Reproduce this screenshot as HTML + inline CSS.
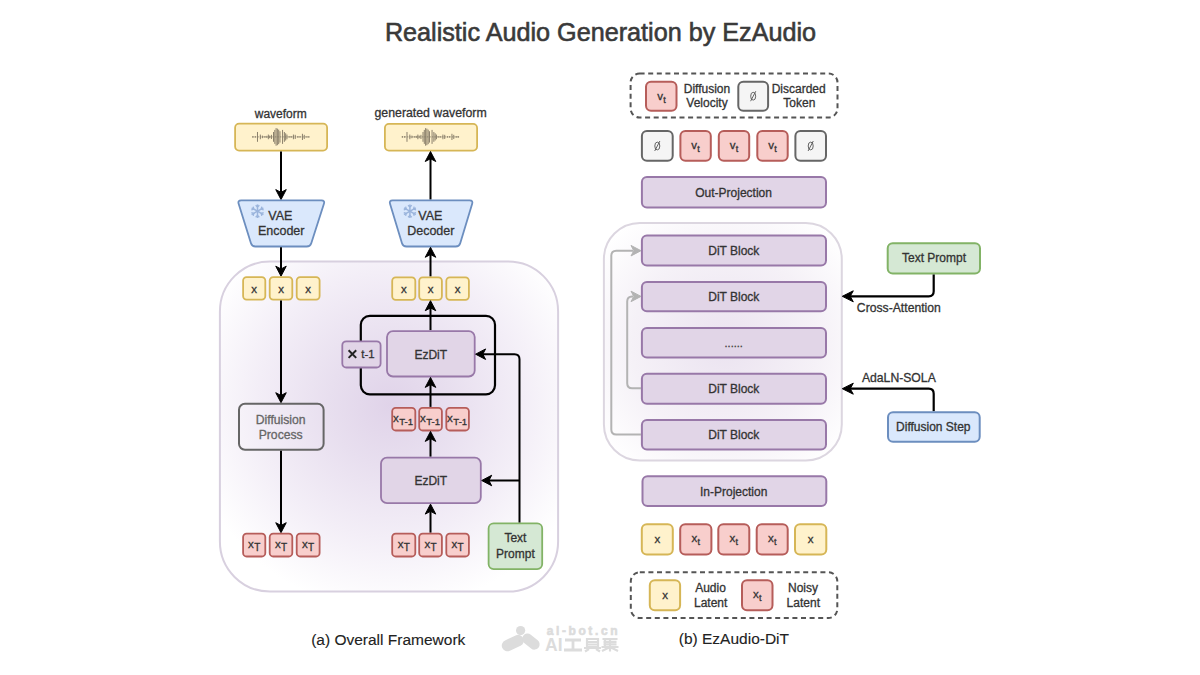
<!DOCTYPE html><html><head><meta charset="utf-8"><style>html,body{margin:0;padding:0;background:#fff;width:1200px;height:675px;overflow:hidden}svg{display:block}text{font-family:"Liberation Sans",sans-serif}</style></head><body>
<svg width="1200" height="675" viewBox="0 0 1200 675">
<defs>
<radialGradient id="g1" cx="390" cy="405" r="205" gradientUnits="userSpaceOnUse">
<stop offset="0" stop-color="#e0d3e9"/><stop offset="0.3" stop-color="#e8dfef"/><stop offset="0.65" stop-color="#f3eef7"/><stop offset="1" stop-color="#ffffff"/></radialGradient>
<radialGradient id="g2" cx="725" cy="345" r="155" gradientUnits="userSpaceOnUse">
<stop offset="0" stop-color="#ebe3f0"/><stop offset="0.6" stop-color="#f5f1f7"/><stop offset="1" stop-color="#ffffff"/></radialGradient>
</defs>
<text x="600.50" y="40.60" font-size="25.2" fill="#3a3a3a" stroke="#3a3a3a" stroke-width="0.6" text-anchor="middle" font-weight="normal" >Realistic Audio Generation by EzAudio</text>
<rect x="219.9" y="261.5" width="338.2" height="330.1" rx="50" fill="url(#g1)" stroke="#d8d0df" stroke-width="2"/>
<text x="280.75" y="117.50" font-size="12" fill="#333" stroke="#333" stroke-width="0.3" text-anchor="middle" font-weight="normal" >waveform</text>
<rect x="235.10" y="123.70" width="92.00" height="26.90" rx="4" fill="#fff2cc" stroke="#d6b656" stroke-width="1.8"/>
<line x1="252.33" y1="136.9" x2="309.95" y2="136.9" stroke="#9a917a" stroke-width="1" stroke-dasharray="1.5,1"/>
<line x1="252.84" y1="136.12" x2="252.84" y2="137.68" stroke="#857a66" stroke-width="0.95"/>
<line x1="255.17" y1="136.12" x2="255.17" y2="137.68" stroke="#857a66" stroke-width="0.95"/>
<line x1="257.49" y1="131.99" x2="257.49" y2="141.81" stroke="#857a66" stroke-width="0.95"/>
<line x1="260.34" y1="134.57" x2="260.34" y2="139.23" stroke="#857a66" stroke-width="0.95"/>
<line x1="262.40" y1="135.61" x2="262.40" y2="138.19" stroke="#857a66" stroke-width="0.95"/>
<line x1="264.73" y1="136.12" x2="264.73" y2="137.68" stroke="#857a66" stroke-width="0.95"/>
<line x1="266.80" y1="135.87" x2="266.80" y2="137.93" stroke="#857a66" stroke-width="0.95"/>
<line x1="268.35" y1="134.57" x2="268.35" y2="139.23" stroke="#857a66" stroke-width="0.95"/>
<line x1="269.64" y1="135.61" x2="269.64" y2="138.19" stroke="#857a66" stroke-width="0.95"/>
<line x1="271.45" y1="134.83" x2="271.45" y2="138.97" stroke="#857a66" stroke-width="0.95"/>
<line x1="273.51" y1="131.99" x2="273.51" y2="141.81" stroke="#857a66" stroke-width="0.95"/>
<line x1="274.81" y1="129.92" x2="274.81" y2="143.88" stroke="#857a66" stroke-width="0.95"/>
<line x1="276.10" y1="128.11" x2="276.10" y2="145.69" stroke="#857a66" stroke-width="0.95"/>
<line x1="277.39" y1="128.63" x2="277.39" y2="145.17" stroke="#857a66" stroke-width="0.95"/>
<line x1="278.68" y1="129.66" x2="278.68" y2="144.14" stroke="#857a66" stroke-width="0.95"/>
<line x1="279.97" y1="131.22" x2="279.97" y2="142.58" stroke="#857a66" stroke-width="0.95"/>
<line x1="282.56" y1="129.92" x2="282.56" y2="143.88" stroke="#857a66" stroke-width="0.95"/>
<line x1="284.37" y1="131.99" x2="284.37" y2="141.81" stroke="#857a66" stroke-width="0.95"/>
<line x1="285.66" y1="133.28" x2="285.66" y2="140.52" stroke="#857a66" stroke-width="0.95"/>
<line x1="286.95" y1="134.57" x2="286.95" y2="139.23" stroke="#857a66" stroke-width="0.95"/>
<line x1="289.28" y1="136.12" x2="289.28" y2="137.68" stroke="#857a66" stroke-width="0.95"/>
<line x1="291.34" y1="136.12" x2="291.34" y2="137.68" stroke="#857a66" stroke-width="0.95"/>
<line x1="293.41" y1="134.57" x2="293.41" y2="139.23" stroke="#857a66" stroke-width="0.95"/>
<line x1="295.22" y1="134.83" x2="295.22" y2="138.97" stroke="#857a66" stroke-width="0.95"/>
<line x1="297.80" y1="136.12" x2="297.80" y2="137.68" stroke="#857a66" stroke-width="0.95"/>
<line x1="299.87" y1="136.12" x2="299.87" y2="137.68" stroke="#857a66" stroke-width="0.95"/>
<line x1="302.45" y1="133.80" x2="302.45" y2="140.00" stroke="#857a66" stroke-width="0.95"/>
<line x1="304.26" y1="134.83" x2="304.26" y2="138.97" stroke="#857a66" stroke-width="0.95"/>
<line x1="306.85" y1="136.12" x2="306.85" y2="137.68" stroke="#857a66" stroke-width="0.95"/>
<line x1="308.91" y1="136.12" x2="308.91" y2="137.68" stroke="#857a66" stroke-width="0.95"/>
<line x1="281" y1="151.5" x2="281" y2="192.6" stroke="#000" stroke-width="2"/>
<polygon points="281.00,199.60 275.75,189.60 281.00,192.40 286.25,189.60" fill="#000" stroke="#000" stroke-width="1" stroke-linejoin="miter"/>
<path d="M238.64,203.74 Q237.60,200.40 241.10,200.40 L321.50,200.40 Q325.00,200.40 323.93,203.73 L311.27,243.17 Q310.20,246.50 306.70,246.50 L255.50,246.50 Q252.00,246.50 250.96,243.16 Z" fill="#dae8fc" stroke="#6c8ebf" stroke-width="1.8"/>
<line x1="257.50" y1="204.40" x2="257.50" y2="218.00" stroke="#9ab4dc" stroke-width="1.5"/>
<line x1="257.50" y1="215.42" x2="255.65" y2="217.22" stroke="#9ab4dc" stroke-width="1.25"/>
<line x1="257.50" y1="215.42" x2="259.35" y2="217.22" stroke="#9ab4dc" stroke-width="1.25"/>
<line x1="257.50" y1="206.98" x2="259.35" y2="205.18" stroke="#9ab4dc" stroke-width="1.25"/>
<line x1="257.50" y1="206.98" x2="255.65" y2="205.18" stroke="#9ab4dc" stroke-width="1.25"/>
<line x1="263.39" y1="207.80" x2="251.61" y2="214.60" stroke="#9ab4dc" stroke-width="1.5"/>
<line x1="253.85" y1="213.31" x2="251.36" y2="212.60" stroke="#9ab4dc" stroke-width="1.25"/>
<line x1="253.85" y1="213.31" x2="253.22" y2="215.81" stroke="#9ab4dc" stroke-width="1.25"/>
<line x1="261.15" y1="209.09" x2="263.64" y2="209.80" stroke="#9ab4dc" stroke-width="1.25"/>
<line x1="261.15" y1="209.09" x2="261.78" y2="206.59" stroke="#9ab4dc" stroke-width="1.25"/>
<line x1="263.39" y1="214.60" x2="251.61" y2="207.80" stroke="#9ab4dc" stroke-width="1.5"/>
<line x1="253.85" y1="209.09" x2="253.22" y2="206.59" stroke="#9ab4dc" stroke-width="1.25"/>
<line x1="253.85" y1="209.09" x2="251.36" y2="209.80" stroke="#9ab4dc" stroke-width="1.25"/>
<line x1="261.15" y1="213.31" x2="261.78" y2="215.81" stroke="#9ab4dc" stroke-width="1.25"/>
<line x1="261.15" y1="213.31" x2="263.64" y2="212.60" stroke="#9ab4dc" stroke-width="1.25"/>
<text x="280.30" y="220.20" font-size="12.5" fill="#333333" stroke="#333333" stroke-width="0.3" text-anchor="middle" font-weight="normal" >VAE</text>
<text x="281.20" y="235.40" font-size="12.5" fill="#333333" stroke="#333333" stroke-width="0.3" text-anchor="middle" font-weight="normal" >Encoder</text>
<line x1="281" y1="247.3" x2="281" y2="269.2" stroke="#000" stroke-width="2"/>
<polygon points="281.00,276.20 275.75,266.20 281.00,269.00 286.25,266.20" fill="#000" stroke="#000" stroke-width="1" stroke-linejoin="miter"/>
<rect x="243.10" y="277.10" width="22.20" height="22.50" rx="3.5" fill="#fff2cc" stroke="#d6b656" stroke-width="1.8"/>
<text x="254.20" y="293.00" font-size="11.5" fill="#333333" stroke="#333333" stroke-width="0.3" text-anchor="middle" font-weight="normal" >x</text>
<rect x="269.70" y="277.10" width="22.60" height="22.50" rx="3.5" fill="#fff2cc" stroke="#d6b656" stroke-width="1.8"/>
<text x="281.00" y="293.00" font-size="11.5" fill="#333333" stroke="#333333" stroke-width="0.3" text-anchor="middle" font-weight="normal" >x</text>
<rect x="296.70" y="277.10" width="22.90" height="22.50" rx="3.5" fill="#fff2cc" stroke="#d6b656" stroke-width="1.8"/>
<text x="308.15" y="293.00" font-size="11.5" fill="#333333" stroke="#333333" stroke-width="0.3" text-anchor="middle" font-weight="normal" >x</text>
<line x1="281" y1="300.5" x2="281" y2="395.7" stroke="#000" stroke-width="2"/>
<polygon points="281.00,402.70 275.75,392.70 281.00,395.50 286.25,392.70" fill="#000" stroke="#000" stroke-width="1" stroke-linejoin="miter"/>
<rect x="239.00" y="403.70" width="84.60" height="46.00" rx="6" fill="none" stroke="#666666" stroke-width="2"/>
<text x="280.70" y="423.90" font-size="12.2" fill="#666" stroke="#666" stroke-width="0.3" text-anchor="middle" font-weight="normal" >Diffuision</text>
<text x="280.70" y="438.80" font-size="12.2" fill="#666" stroke="#666" stroke-width="0.3" text-anchor="middle" font-weight="normal" >Process</text>
<line x1="281" y1="450.7" x2="281" y2="525.7" stroke="#000" stroke-width="2"/>
<polygon points="281.00,532.70 275.75,522.70 281.00,525.50 286.25,522.70" fill="#000" stroke="#000" stroke-width="1" stroke-linejoin="miter"/>
<rect x="243.10" y="533.60" width="22.20" height="22.90" rx="3.5" fill="#f8cecc" stroke="#b65d5a" stroke-width="1.8"/>
<text x="254.20" y="547.70" font-size="11.5" fill="#333" stroke="#333" stroke-width="0.3" text-anchor="middle"><tspan>x</tspan><tspan font-size="10" dy="3" dx="0.3">T</tspan></text>
<rect x="269.70" y="533.60" width="22.60" height="22.90" rx="3.5" fill="#f8cecc" stroke="#b65d5a" stroke-width="1.8"/>
<text x="281.00" y="547.70" font-size="11.5" fill="#333" stroke="#333" stroke-width="0.3" text-anchor="middle"><tspan>x</tspan><tspan font-size="10" dy="3" dx="0.3">T</tspan></text>
<rect x="296.70" y="533.60" width="22.90" height="22.90" rx="3.5" fill="#f8cecc" stroke="#b65d5a" stroke-width="1.8"/>
<text x="308.15" y="547.70" font-size="11.5" fill="#333" stroke="#333" stroke-width="0.3" text-anchor="middle"><tspan>x</tspan><tspan font-size="10" dy="3" dx="0.3">T</tspan></text>
<text x="430.60" y="117.20" font-size="12.3" fill="#333333" stroke="#333333" stroke-width="0.3" text-anchor="middle" font-weight="normal" >generated waveform</text>
<rect x="384.90" y="123.90" width="92.20" height="26.70" rx="4" fill="#fff2cc" stroke="#d6b656" stroke-width="1.8"/>
<line x1="401.83" y1="136.9" x2="459.45" y2="136.9" stroke="#9a917a" stroke-width="1" stroke-dasharray="1.5,1"/>
<line x1="402.34" y1="136.12" x2="402.34" y2="137.68" stroke="#857a66" stroke-width="0.95"/>
<line x1="404.67" y1="136.12" x2="404.67" y2="137.68" stroke="#857a66" stroke-width="0.95"/>
<line x1="406.99" y1="131.99" x2="406.99" y2="141.81" stroke="#857a66" stroke-width="0.95"/>
<line x1="409.84" y1="134.57" x2="409.84" y2="139.23" stroke="#857a66" stroke-width="0.95"/>
<line x1="411.90" y1="135.61" x2="411.90" y2="138.19" stroke="#857a66" stroke-width="0.95"/>
<line x1="414.23" y1="136.12" x2="414.23" y2="137.68" stroke="#857a66" stroke-width="0.95"/>
<line x1="416.30" y1="135.87" x2="416.30" y2="137.93" stroke="#857a66" stroke-width="0.95"/>
<line x1="417.85" y1="134.57" x2="417.85" y2="139.23" stroke="#857a66" stroke-width="0.95"/>
<line x1="419.14" y1="135.61" x2="419.14" y2="138.19" stroke="#857a66" stroke-width="0.95"/>
<line x1="420.95" y1="134.83" x2="420.95" y2="138.97" stroke="#857a66" stroke-width="0.95"/>
<line x1="423.01" y1="131.99" x2="423.01" y2="141.81" stroke="#857a66" stroke-width="0.95"/>
<line x1="424.31" y1="129.92" x2="424.31" y2="143.88" stroke="#857a66" stroke-width="0.95"/>
<line x1="425.60" y1="128.11" x2="425.60" y2="145.69" stroke="#857a66" stroke-width="0.95"/>
<line x1="426.89" y1="128.63" x2="426.89" y2="145.17" stroke="#857a66" stroke-width="0.95"/>
<line x1="428.18" y1="129.66" x2="428.18" y2="144.14" stroke="#857a66" stroke-width="0.95"/>
<line x1="429.47" y1="131.22" x2="429.47" y2="142.58" stroke="#857a66" stroke-width="0.95"/>
<line x1="432.06" y1="129.92" x2="432.06" y2="143.88" stroke="#857a66" stroke-width="0.95"/>
<line x1="433.87" y1="131.99" x2="433.87" y2="141.81" stroke="#857a66" stroke-width="0.95"/>
<line x1="435.16" y1="133.28" x2="435.16" y2="140.52" stroke="#857a66" stroke-width="0.95"/>
<line x1="436.45" y1="134.57" x2="436.45" y2="139.23" stroke="#857a66" stroke-width="0.95"/>
<line x1="438.78" y1="136.12" x2="438.78" y2="137.68" stroke="#857a66" stroke-width="0.95"/>
<line x1="440.84" y1="136.12" x2="440.84" y2="137.68" stroke="#857a66" stroke-width="0.95"/>
<line x1="442.91" y1="134.57" x2="442.91" y2="139.23" stroke="#857a66" stroke-width="0.95"/>
<line x1="444.72" y1="134.83" x2="444.72" y2="138.97" stroke="#857a66" stroke-width="0.95"/>
<line x1="447.30" y1="136.12" x2="447.30" y2="137.68" stroke="#857a66" stroke-width="0.95"/>
<line x1="449.37" y1="136.12" x2="449.37" y2="137.68" stroke="#857a66" stroke-width="0.95"/>
<line x1="451.95" y1="133.80" x2="451.95" y2="140.00" stroke="#857a66" stroke-width="0.95"/>
<line x1="453.76" y1="134.83" x2="453.76" y2="138.97" stroke="#857a66" stroke-width="0.95"/>
<line x1="456.35" y1="136.12" x2="456.35" y2="137.68" stroke="#857a66" stroke-width="0.95"/>
<line x1="458.41" y1="136.12" x2="458.41" y2="137.68" stroke="#857a66" stroke-width="0.95"/>
<line x1="430.5" y1="199.6" x2="430.5" y2="158.5" stroke="#000" stroke-width="2"/>
<polygon points="430.50,151.50 425.25,161.50 430.50,158.70 435.75,161.50" fill="#000" stroke="#000" stroke-width="1" stroke-linejoin="miter"/>
<path d="M390.02,203.75 Q389.00,200.40 392.50,200.40 L469.70,200.40 Q473.20,200.40 472.18,203.75 L460.22,243.15 Q459.20,246.50 455.70,246.50 L406.50,246.50 Q403.00,246.50 401.98,243.15 Z" fill="#dae8fc" stroke="#6c8ebf" stroke-width="1.8"/>
<line x1="409.90" y1="204.40" x2="409.90" y2="218.00" stroke="#9ab4dc" stroke-width="1.5"/>
<line x1="409.90" y1="215.42" x2="408.05" y2="217.22" stroke="#9ab4dc" stroke-width="1.25"/>
<line x1="409.90" y1="215.42" x2="411.75" y2="217.22" stroke="#9ab4dc" stroke-width="1.25"/>
<line x1="409.90" y1="206.98" x2="411.75" y2="205.18" stroke="#9ab4dc" stroke-width="1.25"/>
<line x1="409.90" y1="206.98" x2="408.05" y2="205.18" stroke="#9ab4dc" stroke-width="1.25"/>
<line x1="415.79" y1="207.80" x2="404.01" y2="214.60" stroke="#9ab4dc" stroke-width="1.5"/>
<line x1="406.25" y1="213.31" x2="403.76" y2="212.60" stroke="#9ab4dc" stroke-width="1.25"/>
<line x1="406.25" y1="213.31" x2="405.62" y2="215.81" stroke="#9ab4dc" stroke-width="1.25"/>
<line x1="413.55" y1="209.09" x2="416.04" y2="209.80" stroke="#9ab4dc" stroke-width="1.25"/>
<line x1="413.55" y1="209.09" x2="414.18" y2="206.59" stroke="#9ab4dc" stroke-width="1.25"/>
<line x1="415.79" y1="214.60" x2="404.01" y2="207.80" stroke="#9ab4dc" stroke-width="1.5"/>
<line x1="406.25" y1="209.09" x2="405.62" y2="206.59" stroke="#9ab4dc" stroke-width="1.25"/>
<line x1="406.25" y1="209.09" x2="403.76" y2="209.80" stroke="#9ab4dc" stroke-width="1.25"/>
<line x1="413.55" y1="213.31" x2="414.18" y2="215.81" stroke="#9ab4dc" stroke-width="1.25"/>
<line x1="413.55" y1="213.31" x2="416.04" y2="212.60" stroke="#9ab4dc" stroke-width="1.25"/>
<text x="430.30" y="220.20" font-size="12.5" fill="#333333" stroke="#333333" stroke-width="0.3" text-anchor="middle" font-weight="normal" >VAE</text>
<text x="430.80" y="235.40" font-size="12.5" fill="#333333" stroke="#333333" stroke-width="0.3" text-anchor="middle" font-weight="normal" >Decoder</text>
<line x1="430.5" y1="276.5" x2="430.5" y2="254.3" stroke="#000" stroke-width="2"/>
<polygon points="430.50,247.30 425.25,257.30 430.50,254.50 435.75,257.30" fill="#000" stroke="#000" stroke-width="1" stroke-linejoin="miter"/>
<rect x="392.20" y="277.40" width="23.10" height="22.40" rx="3.5" fill="#fff2cc" stroke="#d6b656" stroke-width="1.8"/>
<text x="403.75" y="293.20" font-size="11.5" fill="#333333" stroke="#333333" stroke-width="0.3" text-anchor="middle" font-weight="normal" >x</text>
<rect x="419.20" y="277.40" width="22.70" height="22.40" rx="3.5" fill="#fff2cc" stroke="#d6b656" stroke-width="1.8"/>
<text x="430.55" y="293.20" font-size="11.5" fill="#333333" stroke="#333333" stroke-width="0.3" text-anchor="middle" font-weight="normal" >x</text>
<rect x="446.30" y="277.40" width="22.60" height="22.40" rx="3.5" fill="#fff2cc" stroke="#d6b656" stroke-width="1.8"/>
<text x="457.60" y="293.20" font-size="11.5" fill="#333333" stroke="#333333" stroke-width="0.3" text-anchor="middle" font-weight="normal" >x</text>
<rect x="360.8" y="315.8" width="134.2" height="78.5" rx="9" fill="none" stroke="#000" stroke-width="2.2"/>
<line x1="430.5" y1="330.2" x2="430.5" y2="307.7" stroke="#000" stroke-width="2"/>
<polygon points="430.50,300.70 425.25,310.70 430.50,307.90 435.75,310.70" fill="#000" stroke="#000" stroke-width="1" stroke-linejoin="miter"/>
<rect x="342.30" y="341.30" width="38.30" height="26.20" rx="4" fill="#e1d5e7" stroke="#9878a8" stroke-width="1.8"/>
<path d="M348.6,350.3 L356.2,357.9 M356.2,350.3 L348.6,357.9" stroke="#222" stroke-width="2"/>
<text x="361.30" y="358.30" font-size="11.4" fill="#333333" stroke="#333333" stroke-width="0.3" text-anchor="start" font-weight="normal" >t-1</text>
<rect x="387.00" y="331.10" width="87.70" height="45.40" rx="6" fill="#e1d5e7" stroke="#9878a8" stroke-width="1.8"/>
<text x="430.80" y="358.70" font-size="12" fill="#333333" stroke="#333333" stroke-width="0.3" text-anchor="middle" font-weight="normal" >EzDiT</text>
<line x1="430.5" y1="406.9" x2="430.5" y2="384.4" stroke="#000" stroke-width="2"/>
<polygon points="430.50,377.40 425.25,387.40 430.50,384.60 435.75,387.40" fill="#000" stroke="#000" stroke-width="1" stroke-linejoin="miter"/>
<rect x="392.20" y="407.80" width="23.10" height="22.70" rx="3.5" fill="#f8cecc" stroke="#b65d5a" stroke-width="1.8"/>
<text x="392.90" y="422.2" font-size="11.5" fill="#333" stroke="#333" stroke-width="0.3"><tspan>x</tspan><tspan font-size="9.6" dy="3" dx="0.6">T-1</tspan></text>
<rect x="419.20" y="407.80" width="22.70" height="22.70" rx="3.5" fill="#f8cecc" stroke="#b65d5a" stroke-width="1.8"/>
<text x="419.90" y="422.2" font-size="11.5" fill="#333" stroke="#333" stroke-width="0.3"><tspan>x</tspan><tspan font-size="9.6" dy="3" dx="0.6">T-1</tspan></text>
<rect x="446.30" y="407.80" width="22.60" height="22.70" rx="3.5" fill="#f8cecc" stroke="#b65d5a" stroke-width="1.8"/>
<text x="447.00" y="422.2" font-size="11.5" fill="#333" stroke="#333" stroke-width="0.3"><tspan>x</tspan><tspan font-size="9.6" dy="3" dx="0.6">T-1</tspan></text>
<line x1="430.5" y1="456.7" x2="430.5" y2="438.4" stroke="#000" stroke-width="2"/>
<polygon points="430.50,431.40 425.25,441.40 430.50,438.60 435.75,441.40" fill="#000" stroke="#000" stroke-width="1" stroke-linejoin="miter"/>
<rect x="381.00" y="457.60" width="99.80" height="45.60" rx="6" fill="#e1d5e7" stroke="#9878a8" stroke-width="1.8"/>
<text x="430.80" y="485.20" font-size="12" fill="#333333" stroke="#333333" stroke-width="0.3" text-anchor="middle" font-weight="normal" >EzDiT</text>
<line x1="430.5" y1="532.7" x2="430.5" y2="511.1" stroke="#000" stroke-width="2"/>
<polygon points="430.50,504.10 425.25,514.10 430.50,511.30 435.75,514.10" fill="#000" stroke="#000" stroke-width="1" stroke-linejoin="miter"/>
<rect x="392.20" y="533.60" width="23.10" height="22.90" rx="3.5" fill="#f8cecc" stroke="#b65d5a" stroke-width="1.8"/>
<text x="403.75" y="547.70" font-size="11.5" fill="#333" stroke="#333" stroke-width="0.3" text-anchor="middle"><tspan>x</tspan><tspan font-size="10" dy="3" dx="0.3">T</tspan></text>
<rect x="419.20" y="533.60" width="22.70" height="22.90" rx="3.5" fill="#f8cecc" stroke="#b65d5a" stroke-width="1.8"/>
<text x="430.55" y="547.70" font-size="11.5" fill="#333" stroke="#333" stroke-width="0.3" text-anchor="middle"><tspan>x</tspan><tspan font-size="10" dy="3" dx="0.3">T</tspan></text>
<rect x="446.30" y="533.60" width="22.60" height="22.90" rx="3.5" fill="#f8cecc" stroke="#b65d5a" stroke-width="1.8"/>
<text x="457.60" y="547.70" font-size="11.5" fill="#333" stroke="#333" stroke-width="0.3" text-anchor="middle"><tspan>x</tspan><tspan font-size="10" dy="3" dx="0.3">T</tspan></text>
<rect x="488.60" y="523.40" width="53.60" height="45.70" rx="5" fill="#d5e8d4" stroke="#82b366" stroke-width="1.8"/>
<text x="515.40" y="542.30" font-size="12" fill="#333333" stroke="#333333" stroke-width="0.3" text-anchor="middle" font-weight="normal" >Text</text>
<text x="515.40" y="557.50" font-size="12" fill="#333333" stroke="#333333" stroke-width="0.3" text-anchor="middle" font-weight="normal" >Prompt</text>
<path d="M519.5,522.5 L519.5,359.2 Q519.5,354.2 514.5,354.2 L482.6,354.2" fill="none" stroke="#000" stroke-width="2"/>
<polygon points="475.60,354.20 485.60,348.95 482.80,354.20 485.60,359.45" fill="#000" stroke="#000" stroke-width="1" stroke-linejoin="miter"/>
<path d="M519.5,480.5 L488.7,480.5" fill="none" stroke="#000" stroke-width="2"/>
<polygon points="481.70,480.50 491.70,475.25 488.90,480.50 491.70,485.75" fill="#000" stroke="#000" stroke-width="1" stroke-linejoin="miter"/>
<text x="388.25" y="644.70" font-size="15.5" fill="#222" stroke="#222" stroke-width="0.12" text-anchor="middle" font-weight="normal" >(a) Overall Framework</text>
<rect x="630.60" y="73.50" width="206.90" height="44.00" rx="9" fill="none" stroke="#555" stroke-width="2" stroke-dasharray="5,3.6"/>
<rect x="646.00" y="81.70" width="30.50" height="29.05" rx="5" fill="#f8cecc" stroke="#b65d5a" stroke-width="2"/>
<text x="661.50" y="99.50" font-size="11.5" fill="#333" stroke="#333" stroke-width="0.3" text-anchor="middle"><tspan>v</tspan><tspan font-size="9" dy="3" dx="0.3">t</tspan></text>
<text x="707.00" y="92.60" font-size="12" fill="#333333" stroke="#333333" stroke-width="0.3" text-anchor="middle" font-weight="normal" >Diffusion</text>
<text x="707.00" y="107.00" font-size="12" fill="#333333" stroke="#333333" stroke-width="0.3" text-anchor="middle" font-weight="normal" >Velocity</text>
<rect x="738.30" y="81.70" width="29.80" height="29.05" rx="5" fill="#f5f5f5" stroke="#666666" stroke-width="2"/>
<ellipse cx="753.20" cy="96.20" rx="2.5" ry="3.9" fill="none" stroke="#555" stroke-width="0.9"/>
<line x1="755.80" y1="91.20" x2="750.60" y2="101.20" stroke="#555" stroke-width="0.9"/>
<text x="798.70" y="92.60" font-size="12" fill="#333333" stroke="#333333" stroke-width="0.3" text-anchor="middle" font-weight="normal" >Discarded</text>
<text x="799.30" y="107.00" font-size="12" fill="#333333" stroke="#333333" stroke-width="0.3" text-anchor="middle" font-weight="normal" >Token</text>
<rect x="641.90" y="131.00" width="30.80" height="29.80" rx="5" fill="#f5f5f5" stroke="#666666" stroke-width="2"/>
<ellipse cx="657.30" cy="146.00" rx="2.5" ry="3.9" fill="none" stroke="#555" stroke-width="0.9"/>
<line x1="659.90" y1="141.00" x2="654.70" y2="151.00" stroke="#555" stroke-width="0.9"/>
<rect x="680.40" y="131.00" width="30.40" height="29.80" rx="5" fill="#f8cecc" stroke="#b65d5a" stroke-width="2"/>
<text x="695.60" y="148.70" font-size="11.5" fill="#333" stroke="#333" stroke-width="0.3" text-anchor="middle"><tspan>v</tspan><tspan font-size="9" dy="3" dx="0.3">t</tspan></text>
<rect x="718.80" y="131.00" width="30.40" height="29.80" rx="5" fill="#f8cecc" stroke="#b65d5a" stroke-width="2"/>
<text x="734.00" y="148.70" font-size="11.5" fill="#333" stroke="#333" stroke-width="0.3" text-anchor="middle"><tspan>v</tspan><tspan font-size="9" dy="3" dx="0.3">t</tspan></text>
<rect x="757.30" y="131.00" width="30.40" height="29.80" rx="5" fill="#f8cecc" stroke="#b65d5a" stroke-width="2"/>
<text x="772.50" y="148.70" font-size="11.5" fill="#333" stroke="#333" stroke-width="0.3" text-anchor="middle"><tspan>v</tspan><tspan font-size="9" dy="3" dx="0.3">t</tspan></text>
<rect x="795.40" y="131.00" width="30.60" height="29.80" rx="5" fill="#f5f5f5" stroke="#666666" stroke-width="2"/>
<ellipse cx="810.70" cy="146.00" rx="2.5" ry="3.9" fill="none" stroke="#555" stroke-width="0.9"/>
<line x1="813.30" y1="141.00" x2="808.10" y2="151.00" stroke="#555" stroke-width="0.9"/>
<rect x="641.90" y="177.00" width="184.10" height="30.60" rx="5" fill="#e1d5e7" stroke="#9878a8" stroke-width="2"/>
<text x="733.60" y="197.20" font-size="12" fill="#333333" stroke="#333333" stroke-width="0.3" text-anchor="middle" font-weight="normal" >Out-Projection</text>
<rect x="603.9" y="223.0" width="237.9" height="237.5" rx="36" fill="url(#g2)" stroke="#dcd6e0" stroke-width="2"/>
<rect x="641.90" y="235.60" width="184.10" height="29.90" rx="5" fill="#e1d5e7" stroke="#9878a8" stroke-width="2"/>
<text x="733.80" y="254.85" font-size="12" fill="#333333" stroke="#333333" stroke-width="0.3" text-anchor="middle" font-weight="normal" >DiT Block</text>
<rect x="641.90" y="282.00" width="184.10" height="29.20" rx="5" fill="#e1d5e7" stroke="#9878a8" stroke-width="2"/>
<text x="733.80" y="300.90" font-size="12" fill="#333333" stroke="#333333" stroke-width="0.3" text-anchor="middle" font-weight="normal" >DiT Block</text>
<rect x="641.90" y="328.00" width="184.10" height="29.60" rx="5" fill="#e1d5e7" stroke="#9878a8" stroke-width="2"/>
<text x="733.70" y="347.10" font-size="11" fill="#444" stroke="#444" stroke-width="0.3" text-anchor="middle" font-weight="normal" >......</text>
<rect x="641.90" y="373.80" width="184.10" height="30.00" rx="5" fill="#e1d5e7" stroke="#9878a8" stroke-width="2"/>
<text x="733.80" y="393.10" font-size="12" fill="#333333" stroke="#333333" stroke-width="0.3" text-anchor="middle" font-weight="normal" >DiT Block</text>
<rect x="641.90" y="420.00" width="184.10" height="29.60" rx="5" fill="#e1d5e7" stroke="#9878a8" stroke-width="2"/>
<text x="733.80" y="439.10" font-size="12" fill="#333333" stroke="#333333" stroke-width="0.3" text-anchor="middle" font-weight="normal" >DiT Block</text>
<path d="M641,434.4 L616.3,434.4 Q611.3,434.4 611.3,429.4 L611.3,255.7 Q611.3,250.7 616.3,250.7 L633,250.7" fill="none" stroke="#b3b3b3" stroke-width="2"/>
<polygon points="641.00,250.70 631.00,245.45 633.80,250.70 631.00,255.95" fill="#b3b3b3" stroke="#b3b3b3" stroke-width="1" stroke-linejoin="miter"/>
<path d="M641,388.2 L632.2,388.2 Q627.2,388.2 627.2,383.2 L627.2,301.4 Q627.2,296.4 632.2,296.4 L633,296.4" fill="none" stroke="#b3b3b3" stroke-width="2"/>
<polygon points="641.00,296.40 631.00,291.15 633.80,296.40 631.00,301.65" fill="#b3b3b3" stroke="#b3b3b3" stroke-width="1" stroke-linejoin="miter"/>
<rect x="887.70" y="243.30" width="92.30" height="30.10" rx="5" fill="#d5e8d4" stroke="#82b366" stroke-width="2"/>
<text x="934.00" y="262.00" font-size="12" fill="#333333" stroke="#333333" stroke-width="0.3" text-anchor="middle" font-weight="normal" >Text Prompt</text>
<path d="M933.7,274.4 L933.7,291.3 Q933.7,296.3 928.7,296.3 L849.3,296.3" fill="none" stroke="#000" stroke-width="2.2"/>
<polygon points="842.30,296.30 853.30,290.80 850.22,296.30 853.30,301.80" fill="#000" stroke="#000" stroke-width="1" stroke-linejoin="miter"/>
<text x="898.85" y="312.20" font-size="12.2" fill="#333333" stroke="#333333" stroke-width="0.3" text-anchor="middle" font-weight="normal" >Cross-Attention</text>
<text x="898.85" y="382.00" font-size="12.2" fill="#333333" stroke="#333333" stroke-width="0.3" text-anchor="middle" font-weight="normal" >AdaLN-SOLA</text>
<path d="M933.7,411.3 L933.7,393.7 Q933.7,388.7 928.7,388.7 L849.3,388.7" fill="none" stroke="#000" stroke-width="2.2"/>
<polygon points="842.30,388.70 853.30,383.20 850.22,388.70 853.30,394.20" fill="#000" stroke="#000" stroke-width="1" stroke-linejoin="miter"/>
<rect x="888.00" y="412.30" width="91.70" height="29.40" rx="5" fill="#dae8fc" stroke="#6c8ebf" stroke-width="2"/>
<text x="933.30" y="430.70" font-size="12" fill="#333333" stroke="#333333" stroke-width="0.3" text-anchor="middle" font-weight="normal" >Diffusion Step</text>
<rect x="642.50" y="476.30" width="183.80" height="29.70" rx="5" fill="#e1d5e7" stroke="#9878a8" stroke-width="2"/>
<text x="733.65" y="495.60" font-size="12" fill="#333333" stroke="#333333" stroke-width="0.3" text-anchor="middle" font-weight="normal" >In-Projection</text>
<rect x="641.80" y="524.20" width="31.00" height="30.20" rx="5" fill="#fff2cc" stroke="#d6b656" stroke-width="2"/>
<text x="657.30" y="543.30" font-size="11.5" fill="#333333" stroke="#333333" stroke-width="0.3" text-anchor="middle" font-weight="normal" >x</text>
<rect x="680.20" y="524.20" width="31.20" height="30.20" rx="5" fill="#f8cecc" stroke="#b65d5a" stroke-width="2"/>
<text x="695.80" y="541.80" font-size="11.5" fill="#333" stroke="#333" stroke-width="0.3" text-anchor="middle"><tspan>x</tspan><tspan font-size="9" dy="3" dx="0.3">t</tspan></text>
<rect x="718.30" y="524.20" width="31.00" height="30.20" rx="5" fill="#f8cecc" stroke="#b65d5a" stroke-width="2"/>
<text x="733.80" y="541.80" font-size="11.5" fill="#333" stroke="#333" stroke-width="0.3" text-anchor="middle"><tspan>x</tspan><tspan font-size="9" dy="3" dx="0.3">t</tspan></text>
<rect x="756.70" y="524.20" width="31.00" height="30.20" rx="5" fill="#f8cecc" stroke="#b65d5a" stroke-width="2"/>
<text x="772.20" y="541.80" font-size="11.5" fill="#333" stroke="#333" stroke-width="0.3" text-anchor="middle"><tspan>x</tspan><tspan font-size="9" dy="3" dx="0.3">t</tspan></text>
<rect x="795.00" y="524.20" width="31.30" height="30.20" rx="5" fill="#fff2cc" stroke="#d6b656" stroke-width="2"/>
<text x="810.65" y="543.30" font-size="11.5" fill="#333333" stroke="#333333" stroke-width="0.3" text-anchor="middle" font-weight="normal" >x</text>
<rect x="630.80" y="572.30" width="206.50" height="45.70" rx="9" fill="none" stroke="#555" stroke-width="2" stroke-dasharray="5,3.6"/>
<rect x="649.80" y="580.20" width="30.30" height="30.00" rx="5" fill="#fff2cc" stroke="#d6b656" stroke-width="2"/>
<text x="665.00" y="599.30" font-size="11.5" fill="#333333" stroke="#333333" stroke-width="0.3" text-anchor="middle" font-weight="normal" >x</text>
<text x="710.50" y="591.60" font-size="12" fill="#333333" stroke="#333333" stroke-width="0.3" text-anchor="middle" font-weight="normal" >Audio</text>
<text x="710.70" y="606.80" font-size="12" fill="#333333" stroke="#333333" stroke-width="0.3" text-anchor="middle" font-weight="normal" >Latent</text>
<rect x="742.00" y="580.20" width="30.50" height="30.00" rx="5" fill="#f8cecc" stroke="#b65d5a" stroke-width="2"/>
<text x="757.20" y="597.80" font-size="11.5" fill="#333" stroke="#333" stroke-width="0.3" text-anchor="middle"><tspan>x</tspan><tspan font-size="9" dy="3" dx="0.3">t</tspan></text>
<text x="803.00" y="591.60" font-size="12" fill="#333333" stroke="#333333" stroke-width="0.3" text-anchor="middle" font-weight="normal" >Noisy</text>
<text x="803.30" y="606.80" font-size="12" fill="#333333" stroke="#333333" stroke-width="0.3" text-anchor="middle" font-weight="normal" >Latent</text>
<text x="733.90" y="644.40" font-size="15.5" fill="#222" stroke="#222" stroke-width="0.12" text-anchor="middle" font-weight="normal" >(b) EzAudio-DiT</text>
<circle cx="520.6" cy="630.6" r="4.6" fill="#dcdcdc"/>
<line x1="507.5" y1="645.6" x2="518.1" y2="640.6" stroke="#dcdcdc" stroke-width="11.5" stroke-linecap="round"/>
<line x1="527.5" y1="638.8" x2="534.4" y2="644.4" stroke="#dcdcdc" stroke-width="10.5" stroke-linecap="round"/>
<text x="583.4" y="634.8" font-size="12" font-weight="bold" fill="#dcdcdc" stroke="#dcdcdc" stroke-width="0.6" text-anchor="middle" letter-spacing="2.6">ai-bot.cn</text>
<text x="545" y="651.3" font-size="17.5" font-weight="bold" fill="#dcdcdc">AI</text>
<path d="M565,640 h16 M573,640 v10 M564,650 h18" stroke="#dcdcdc" stroke-width="2.8" fill="none"/>
<path d="M587,639 h11 v8 h-11 z M587,642 h11 M587,644.5 h11 M584,648 h17 M589,649 l-4,2.5 M596,649 l4,2.5" stroke="#dcdcdc" stroke-width="2.2" fill="none"/>
<path d="M602.5,639 h15 M603.5,641.8 h13 M603.5,644.3 h13 M601.5,647 h17 M610,638 v13.5 M609,647.5 l-7,3.5 M611,647.5 l7,3.5 M605,638 v9" stroke="#dcdcdc" stroke-width="2.2" fill="none"/>
</svg></body></html>
